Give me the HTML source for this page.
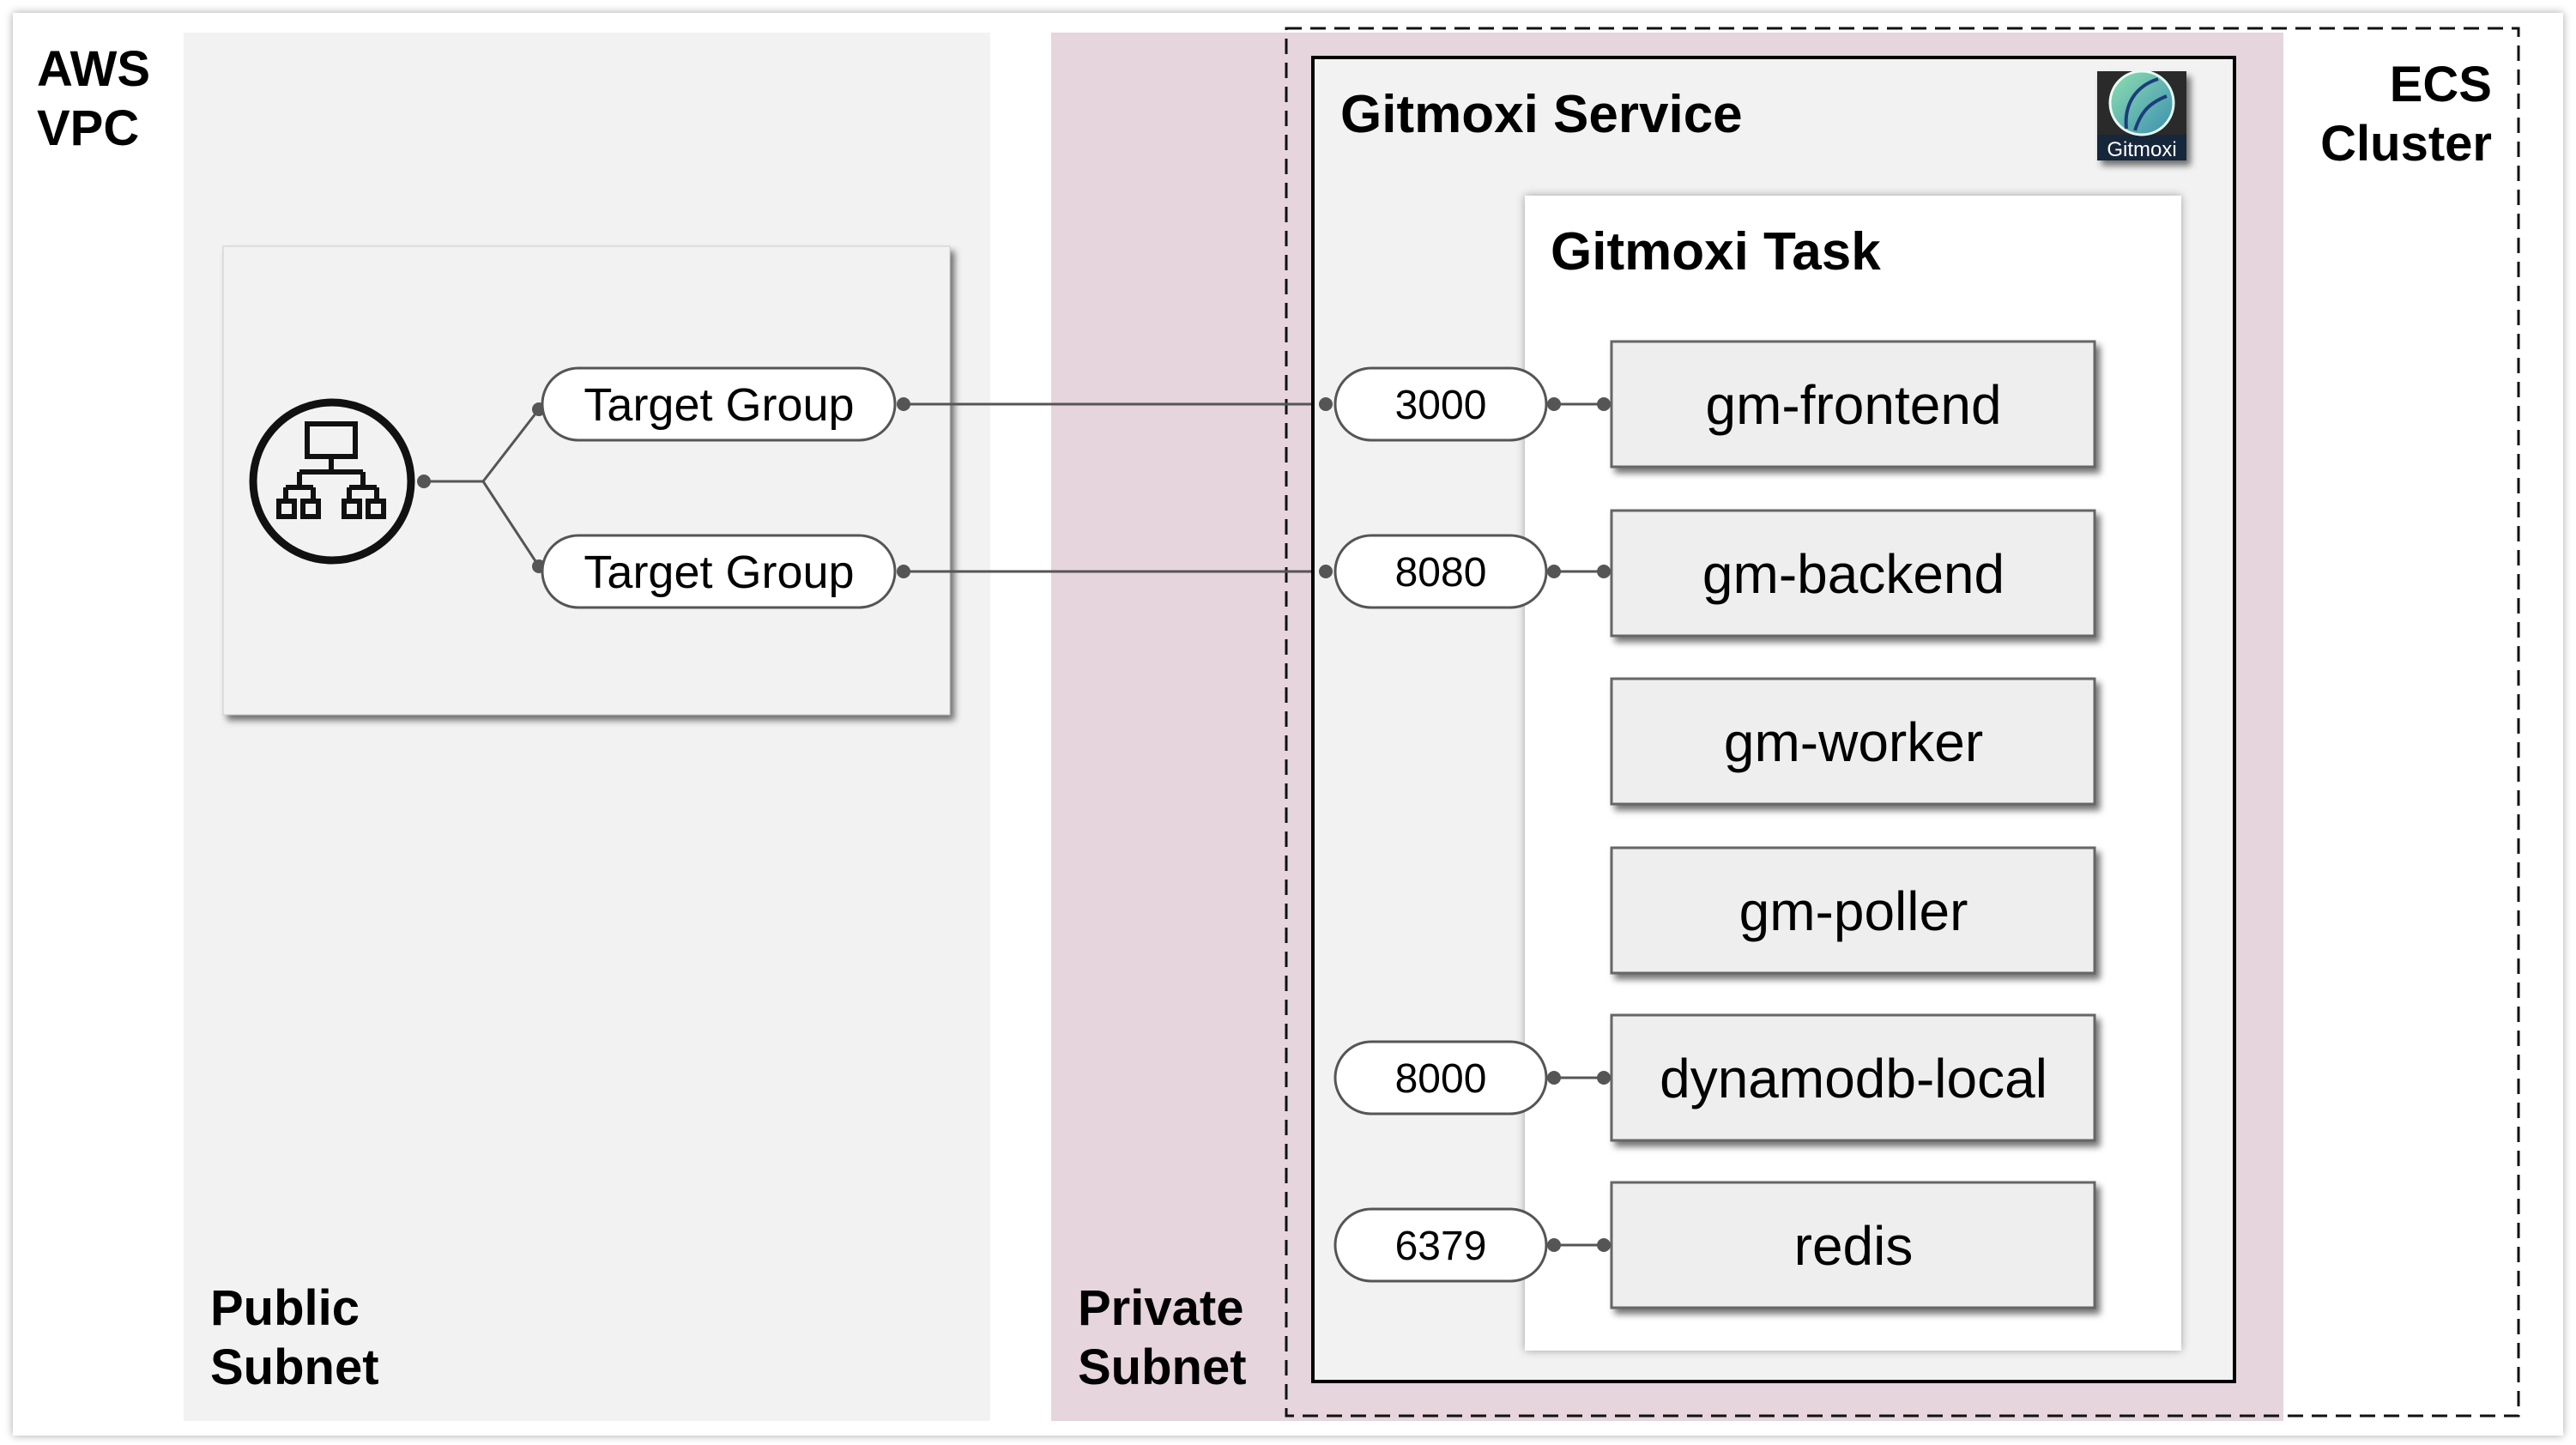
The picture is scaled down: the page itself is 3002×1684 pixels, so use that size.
<!DOCTYPE html>
<html><head><meta charset="utf-8"><style>
html,body{margin:0;padding:0;background:#fff;}
svg{display:block;}
text{font-family:"Liberation Sans",sans-serif;}
.h{font-weight:bold;font-size:58px;fill:#000;}
.t{font-weight:bold;font-size:62px;fill:#000;}
.p{font-size:48px;fill:#000;}
.g{font-size:54px;fill:#000;}
.c{font-size:64px;fill:#000;}
</style></head><body>
<svg width="3002" height="1684" viewBox="0 0 3002 1684" xmlns="http://www.w3.org/2000/svg">
<defs>
<filter id="sh" x="-10%" y="-10%" width="130%" height="130%"><feDropShadow dx="5" dy="6" stdDeviation="4" flood-color="#000" flood-opacity="0.55"/></filter>
<filter id="sh2" x="-5%" y="-5%" width="110%" height="110%"><feDropShadow dx="0" dy="0" stdDeviation="5" flood-color="#000" flood-opacity="0.35"/></filter>
<linearGradient id="lg" x1="0" y1="0" x2="1" y2="1"><stop offset="0" stop-color="#8fe0b0"/><stop offset="1" stop-color="#3a8fb0"/></linearGradient>
</defs>
<rect x="0" y="0" width="3002" height="1684" fill="#fff"/>
<rect x="15" y="15" width="2972" height="1658" fill="#fff" filter="url(#sh2)"/>
<text class="h" x="43" y="100">AWS</text>
<text class="h" x="43" y="169">VPC</text>
<rect x="214" y="38" width="940" height="1618" fill="#f2f2f2"/>
<text class="h" x="245" y="1544">Public</text>
<text class="h" x="245" y="1613">Subnet</text>
<rect x="1225" y="38" width="1436" height="1618" fill="#e6d5dc"/>
<text class="h" x="1256" y="1544">Private</text>
<text class="h" x="1256" y="1613">Subnet</text>
<rect x="1499" y="33" width="1436" height="1617" fill="none" stroke="#111" stroke-width="3" stroke-dasharray="18 10"/>
<text class="h" x="2904" y="118" text-anchor="end">ECS</text>
<text class="h" x="2904" y="187" text-anchor="end">Cluster</text>
<rect x="260" y="287" width="847" height="546" fill="#f2f2f2" stroke="#ccc" stroke-width="1" filter="url(#sh)"/>
<circle cx="387" cy="561" r="92" fill="none" stroke="#111" stroke-width="9"/>
<g fill="none" stroke="#111" stroke-width="6">
<rect x="358" y="494" width="56" height="38"/>
<path d="M386 532 V550 M349 550 H423 M349 550 V568 M423 550 V568 M333 568 H365 M407 568 H439 M333 568 V584 M365 568 V584 M407 568 V584 M439 568 V584"/>
<rect x="325" y="584" width="18" height="18"/><rect x="353" y="584" width="18" height="18"/>
<rect x="401" y="584" width="18" height="18"/><rect x="429" y="584" width="18" height="18"/>
</g>
<g stroke="#555" stroke-width="3" fill="none">
<path d="M494 561 H563 L628 477 M563 561 L628 660"/>
<path d="M1053 471 H1545 M1053 666 H1545"/>
</g>
<g fill="#555"><circle cx="494" cy="561" r="8"/><circle cx="628" cy="477" r="8"/><circle cx="628" cy="660" r="8"/></g>
<rect x="632" y="429" width="411" height="84" rx="42" fill="#fff" stroke="#555" stroke-width="3"/>
<text class="g" x="838" y="490" text-anchor="middle">Target Group</text>
<rect x="632" y="624" width="411" height="84" rx="42" fill="#fff" stroke="#555" stroke-width="3"/>
<text class="g" x="838" y="685" text-anchor="middle">Target Group</text>
<g fill="#555"><circle cx="1053" cy="471" r="8"/><circle cx="1053" cy="666" r="8"/></g>
<rect x="1530" y="67" width="1074" height="1543" fill="#f2f2f2" stroke="#000" stroke-width="4"/>
<text class="t" x="1562" y="154">Gitmoxi Service</text>
<g filter="url(#sh)">
<rect x="2444" y="83" width="104" height="104" fill="#2a2a2a"/>
<rect x="2444" y="157" width="104" height="30" fill="#16283a"/>
</g>
<circle cx="2496" cy="120" r="37" fill="url(#lg)" stroke="#e8fff4" stroke-width="3"/>
<path d="M2478 150 C2475 120 2490 100 2515 92 M2488 152 C2495 130 2505 120 2525 112" stroke="#1d3d7a" stroke-width="4" fill="none"/>
<text x="2496" y="182" text-anchor="middle" style="font-size:24px;fill:#fff">Gitmoxi</text>
<rect x="1777" y="228" width="765" height="1346" fill="#fff" filter="url(#sh2)"/>
<text class="t" x="1807" y="314">Gitmoxi Task</text>
<g fill="#eeeeee" stroke="#666" stroke-width="3" filter="url(#sh)">
<rect x="1878" y="398" width="563" height="146"/>
<rect x="1878" y="595" width="563" height="146"/>
<rect x="1878" y="791" width="563" height="146"/>
<rect x="1878" y="988" width="563" height="146"/>
<rect x="1878" y="1183" width="563" height="146"/>
<rect x="1878" y="1378" width="563" height="146"/>
</g>
<text class="c" x="2160" y="494" text-anchor="middle">gm-frontend</text>
<text class="c" x="2160" y="691" text-anchor="middle">gm-backend</text>
<text class="c" x="2160" y="887" text-anchor="middle">gm-worker</text>
<text class="c" x="2160" y="1084" text-anchor="middle">gm-poller</text>
<text class="c" x="2160" y="1279" text-anchor="middle">dynamodb-local</text>
<text class="c" x="2160" y="1474" text-anchor="middle">redis</text>
<g fill="#fff" stroke="#555" stroke-width="3">
<rect x="1556" y="429" width="246" height="84" rx="42"/>
<rect x="1556" y="624" width="246" height="84" rx="42"/>
<rect x="1556" y="1214" width="246" height="84" rx="42"/>
<rect x="1556" y="1409" width="246" height="84" rx="42"/>
</g>
<text class="p" x="1679" y="488" text-anchor="middle">3000</text>
<text class="p" x="1679" y="683" text-anchor="middle">8080</text>
<text class="p" x="1679" y="1273" text-anchor="middle">8000</text>
<text class="p" x="1679" y="1468" text-anchor="middle">6379</text>
<g stroke="#555" stroke-width="3"><path d="M1811 471 H1869 M1811 666 H1869 M1811 1256 H1869 M1811 1451 H1869"/></g>
<g fill="#555">
<circle cx="1545" cy="471" r="8"/><circle cx="1545" cy="666" r="8"/>
<circle cx="1811" cy="471" r="8"/><circle cx="1869" cy="471" r="8"/>
<circle cx="1811" cy="666" r="8"/><circle cx="1869" cy="666" r="8"/>
<circle cx="1811" cy="1256" r="8"/><circle cx="1869" cy="1256" r="8"/>
<circle cx="1811" cy="1451" r="8"/><circle cx="1869" cy="1451" r="8"/>
</g>
</svg>
</body></html>
